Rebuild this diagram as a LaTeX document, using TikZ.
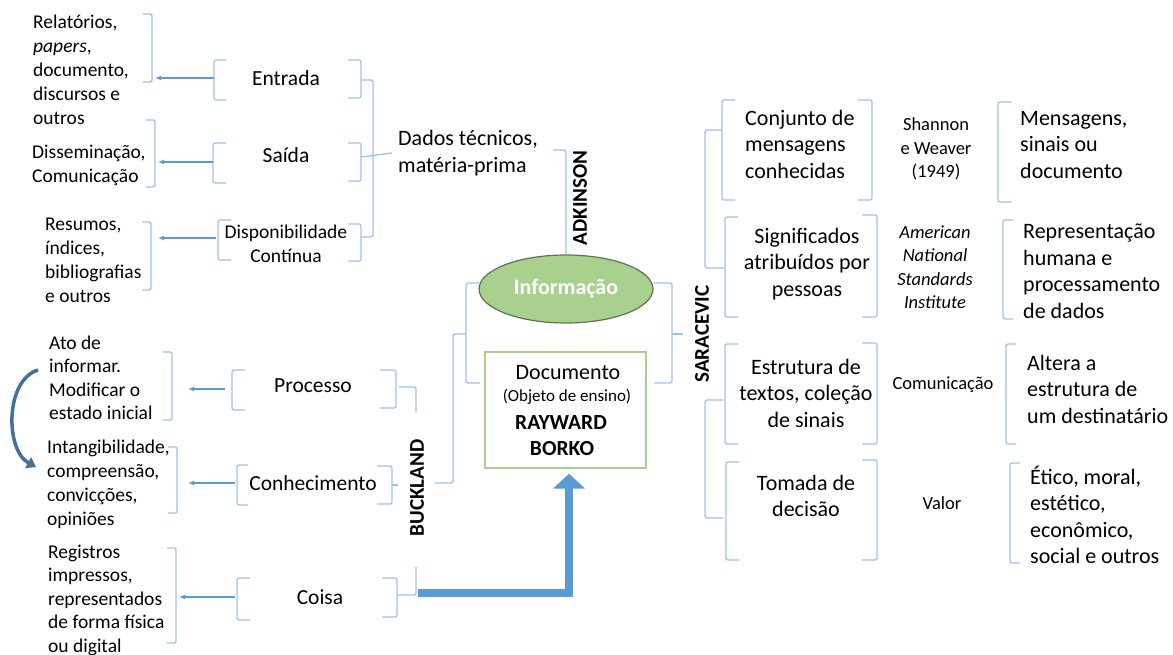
\documentclass[tikz,border=0pt]{standalone}
\usepackage{fontspec}
\setmainfont{Carlito}
\usetikzlibrary{arrows.meta,shapes.geometric}
\definecolor{brkblue}{RGB}{157,195,230}
\definecolor{arrblue}{RGB}{91,155,213}
\definecolor{infogreen}{RGB}{169,209,142}
\definecolor{infoedge}{RGB}{95,115,80}
\definecolor{curvblue}{RGB}{65,113,156}
\tikzset{
  brk/.style={draw=brkblue,line width=1.3pt,rounded corners=2pt},
  arr/.style={draw=arrblue,line width=1.2pt,-{Latex[length=6pt,width=5pt]}},
  bigarr/.style={draw=arrblue,line width=8pt,line join=miter,-{Triangle[width=31pt,length=15pt]}},
  curvarr/.style={draw=curvblue,line width=3.5pt,-{Triangle[width=12pt,length=9pt]}},
  lbl/.style={inner sep=0pt,font=\fontsize{21.5}{26}\selectfont},
  sml/.style={inner sep=0pt,align=left,font=\fontsize{19.5}{24}\selectfont},
  rtxt/.style={inner sep=0pt,align=left,font=\fontsize{22}{26.5}\selectfont},
  mid/.style={inner sep=0pt,align=center,font=\fontsize{18.5}{23.5}\selectfont},
  auth/.style={inner sep=0pt,rotate=90,font=\fontsize{21}{24}\selectfont\bfseries},
}
\begin{document}
\begin{tikzpicture}[x=1pt,y=-1pt]
  \useasboundingbox (0,0) rectangle (1173,655);
  \node[sml,anchor=west] (relat) at (33,70) {Relatórios,\\\textit{papers},\\documento,\\discursos e\\outros};
  \draw[brk] (143,14) -- (152,14) -- (152,82) -- (143,82);
  \coordinate (relat-r) at (155,78);
  \node[lbl] (entrada) at (286,78) {Entrada};
  \draw[brk] (226,60) -- (214,60) -- (214,100) -- (226,100);
  \draw[brk] (348,60) -- (361,60) -- (361,98) -- (348,98);
  \coordinate (entrada-l) at (214,78);
  \draw[arr] (entrada-l) -- (relat-r);
  \node[sml,anchor=west] (dissem) at (32,165) {Disseminação,\\Comunicação};
  \draw[brk] (146,120) -- (155,120) -- (155,187) -- (146,187);
  \coordinate (dissem-r) at (158,162);
  \node[lbl] (saida) at (286,155) {Saída};
  \draw[brk] (226,143) -- (213,143) -- (213,183) -- (226,183);
  \draw[brk] (348,143) -- (361,143) -- (361,181) -- (348,181);
  \coordinate (saida-l) at (213,162);
  \draw[arr] (saida-l) -- (dissem-r);
  \node[sml,align=center] (dispon) at (286,244) {Disponibilidade\\Contínua};
  \draw[brk] (231,220) -- (218,220) -- (218,260) -- (231,260);
  \draw[brk] (348,224) -- (361,224) -- (361,261) -- (348,261);
  \coordinate (dispon-l) at (216,238);
  \node[sml,anchor=west] (resumos) at (45,260) {Resumos,\\índices,\\bibliografias\\e outros};
  \draw[brk] (142,222) -- (151,222) -- (151,290) -- (142,290);
  \coordinate (resumos-r) at (158,238);
  \draw[arr] (dispon-l) -- (resumos-r);
  \draw[brk] (361,80) -- (373,80) -- (373,237) -- (361,237);
  \node[rtxt,anchor=west] (dados) at (398,153) {Dados técnicos,\\matéria-prima};
  \draw[brk] (361,157) -- ([xshift=-6pt]dados.west);
  \node[auth] (adk) at (580,198) {ADKINSON};
  \node[ellipse,draw=infoedge,fill=infogreen,line width=1.2pt,minimum width=174pt,minimum height=68pt,inner sep=0pt,text=white,font=\fontsize{22}{26}\selectfont\bfseries] (info) at (566,289) {Informação};
  \draw[brk] (553,150) -| (info.north);
  \node[draw=infogreen,line width=1.2pt,minimum width=161pt,minimum height=116pt,inner sep=0pt] (doc) at (565.5,410) {};
  \node[rtxt] (doc-t) at (568,373) {Documento};
  \node[inner sep=0pt,font=\fontsize{17}{20}\selectfont] (doc-o) at (567,397) {(Objeto de ensino)};
  \node[inner sep=0pt,font=\fontsize{21.5}{26}\selectfont\bfseries] (doc-r) at (561,423) {RAYWARD};
  \node[inner sep=0pt,font=\fontsize{21.5}{26}\selectfont\bfseries] (doc-b) at (562,449) {BORKO};
  \draw[brk] (479,283) -- (466,283) -- (466,383) -- (480,383);
  \coordinate (buck-r) at (435,483);
  \draw[brk] (466,334) -- (453,334) -- (453,483) -- (buck-r);
  \draw[brk] (654,283) -- (672,283) -- (672,383) -- (654,383);
  \node[auth] (sarac) at (702,334) {SARACEVIC};
  \draw[brk] (672,334) -- (683,334);
  \draw[brk] (722,130) -- (705,130) -- (705,268) -- (725,268);
  \draw[brk] (723,400) -- (705,400) -- (705,518) -- (723,518);
  \node[rtxt,anchor=west] (conj) at (745,144) {Conjunto de\\mensagens\\conhecidas};
  \draw[brk] (735,100) -- (722,100) -- (722,200) -- (735,200);
  \draw[brk] (858,100) -- (872,100) -- (872,200) -- (858,200);
  \node[mid] (shannon) at (936,149) {Shannon\\e Weaver\\(1949)};
  \draw[brk] (1012,102) -- (998,102) -- (998,202) -- (1012,202);
  \node[rtxt,anchor=west] (mens) at (1020,145) {Mensagens,\\sinais ou\\documento};
  \node[rtxt,align=center] (signif) at (807,264) {Significados\\atribuídos por\\pessoas};
  \draw[brk] (738,217) -- (725,217) -- (725,317) -- (738,317);
  \draw[brk] (862,215) -- (877,215) -- (877,317) -- (862,317);
  \node[mid,font=\fontsize{18.5}{23.5}\selectfont\itshape] (ansi) at (935,267) {American\\National\\Standards\\Institute};
  \draw[brk] (1013,220) -- (1003,220) -- (1003,319) -- (1013,319);
  \node[rtxt,anchor=west] (repr) at (1023,271) {Representação\\humana e\\processamento\\de dados};
  \node[rtxt,align=center] (estr) at (806,393) {Estrutura de\\textos, coleção\\de sinais};
  \draw[brk] (738,344) -- (725,344) -- (725,444) -- (738,444);
  \draw[brk] (862,343) -- (877,343) -- (877,444) -- (862,444);
  \node[mid] (comun) at (943,385) {Comunicação};
  \draw[brk] (1016,344) -- (1006,344) -- (1006,444) -- (1016,444);
  \node[rtxt,anchor=west] (altera) at (1027,389) {Altera a\\estrutura de\\um destinatário};
  \node[rtxt,align=center] (tomada) at (806,496) {Tomada de\\decisão};
  \draw[brk] (739,462) -- (726,462) -- (726,560) -- (739,560);
  \draw[brk] (862,460) -- (877,460) -- (877,560) -- (862,560);
  \node[mid] (valor) at (942,503) {Valor};
  \draw[brk] (1020,463) -- (1010,463) -- (1010,563) -- (1020,563);
  \node[rtxt,anchor=west] (etico) at (1030,515) {Ético, moral,\\estético,\\econômico,\\social e outros};
  \node[sml,anchor=west,font=\fontsize{19.5}{23.5}\selectfont] (ato) at (49,378) {Ato de\\informar.\\Modificar o\\estado inicial};
  \draw[brk] (163,352) -- (172,352) -- (172,420) -- (163,420);
  \coordinate (ato-r) at (188,389);
  \node[lbl] (processo) at (313,386) {Processo};
  \draw[brk] (245,370) -- (232,370) -- (232,410) -- (245,410);
  \draw[brk] (380,370) -- (396,370) -- (396,408) -- (380,408);
  \coordinate (processo-l) at (225,389);
  \draw[arr] (processo-l) -- (ato-r);
  \draw[brk] (399,387) -- (416,387) -- (416,412);
  \node[auth] (buck) at (417,488) {BUCKLAND};
  \node[lbl] (conhec) at (313,483) {Conhecimento};
  \draw[brk] (248,465) -- (237,465) -- (237,505) -- (248,505);
  \draw[brk] (377,466) -- (392,466) -- (392,504) -- (377,504);
  \draw[brk] (392,485) -- (398,485);
  \coordinate (conhec-l) at (235,483);
  \node[sml,anchor=west] (intang) at (47,484) {Intangibilidade,\\compreensão,\\convicções,\\opiniões};
  \draw[brk] (168,447) -- (177,447) -- (177,513) -- (168,513);
  \coordinate (intang-r) at (188,483);
  \draw[arr] (conhec-l) -- (intang-r);
  \node[lbl] (coisa) at (320,597) {Coisa};
  \draw[brk] (250,578) -- (237,578) -- (237,620) -- (250,620);
  \draw[brk] (382,578) -- (397,578) -- (397,617) -- (382,617);
  \draw[brk] (397,595) -- (416,595) -- (416,567);
  \coordinate (coisa-l) at (235,597);
  \node[sml,anchor=west,font=\fontsize{19.5}{23.5}\selectfont] (regist) at (48,600) {Registros\\impressos,\\representados\\de forma física\\ou digital};
  \draw[brk] (167,548) -- (176,548) -- (176,643) -- (167,643);
  \coordinate (regist-r) at (179,597);
  \draw[arr] (coisa-l) -- (regist-r);
  \coordinate (coisa-out) at (418,593);
  \draw[bigarr] (coisa-out) -| ([xshift=3.5pt,yshift=-5pt]doc.south);
  \coordinate (ato-w) at (38,370);
  \coordinate (intang-w) at (36,467);
  \draw[curvarr] (ato-w) .. controls (5,380) and (5,450) .. (intang-w);
\end{tikzpicture}
\end{document}
